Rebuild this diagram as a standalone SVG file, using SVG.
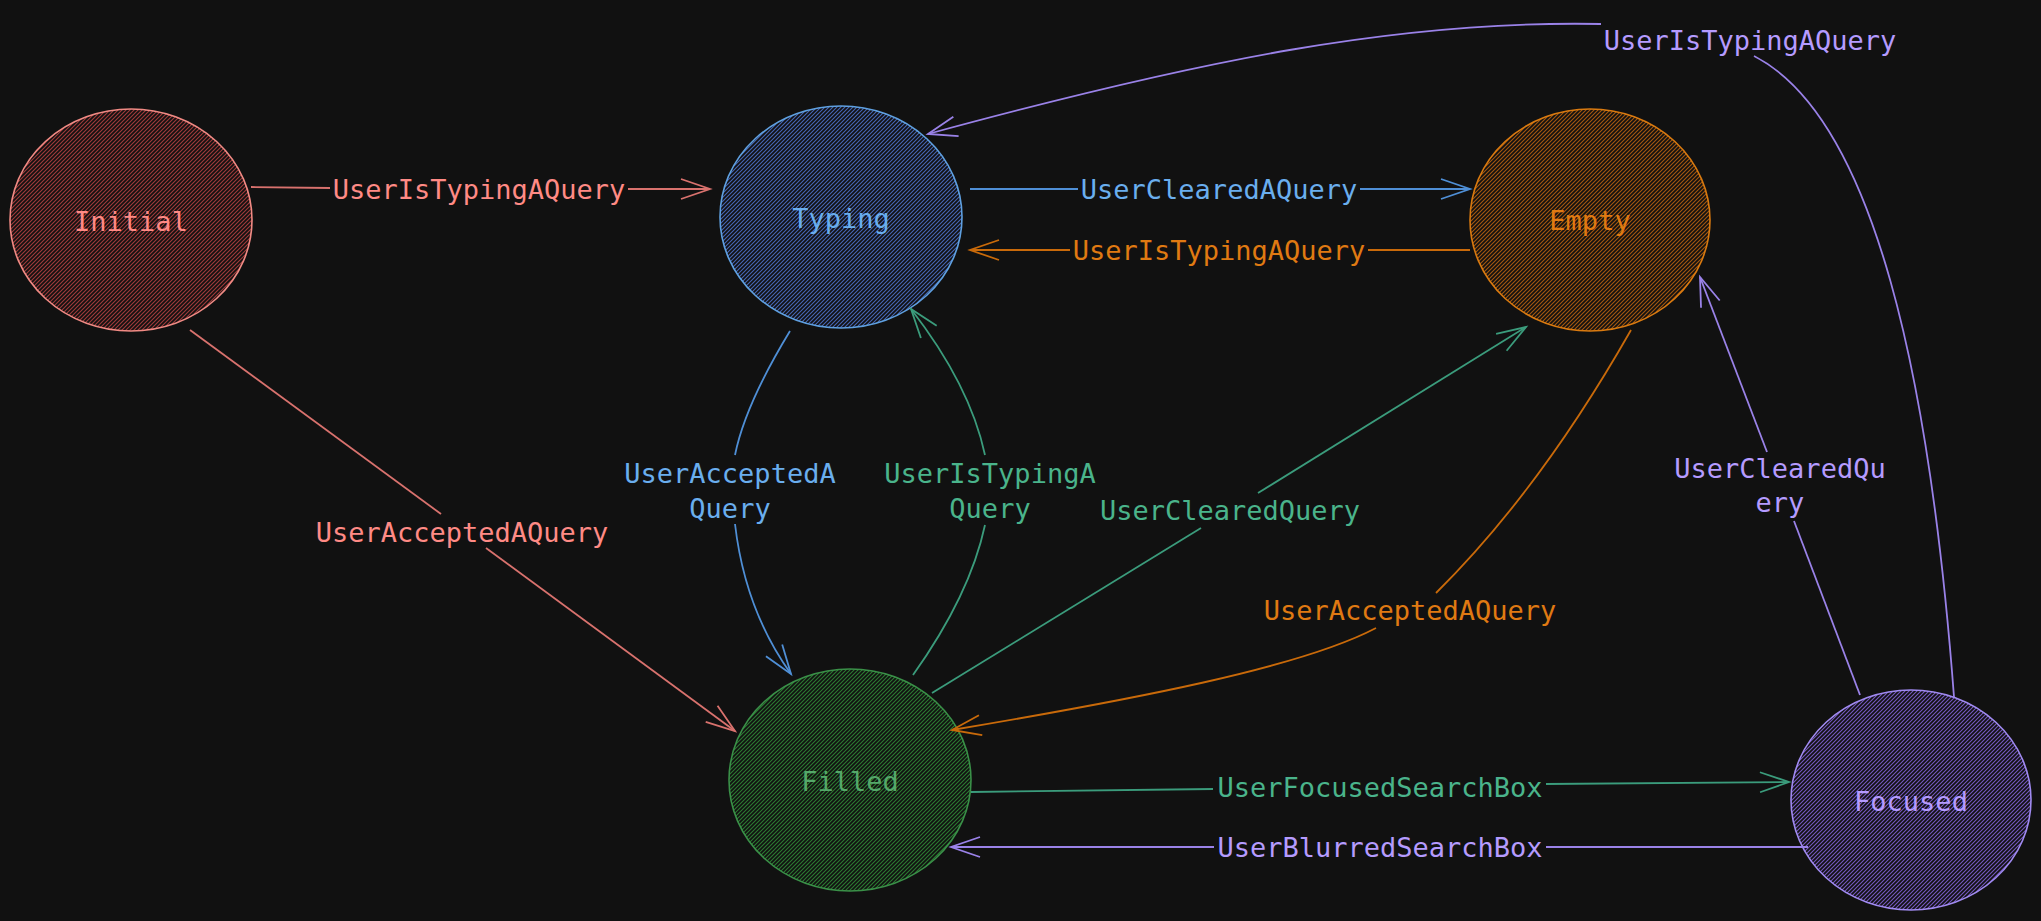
<svg xmlns="http://www.w3.org/2000/svg" width="2041" height="921" viewBox="0 0 2041 921">
<defs>
<style>
text{font-family:"DejaVu Sans Mono","Liberation Mono",monospace;font-size:27px;text-anchor:middle}
.edge{fill:none;stroke-width:1.8}
.node ellipse{stroke-width:1.6}
.red{stroke:#d9726e}.redt{fill:#ff8a85}
.blue{stroke:#4f8fd6}.bluet{fill:#6aaeee}
.orange{stroke:#c96a0a}.oranget{fill:#e07a12}
.green{stroke:#3b9c7c}.greent{fill:#4ab48b}
.purple{stroke:#9a82e8}.purplet{fill:#b59bff}
.hatch{stroke-width:1.1}
</style>
<pattern id="hRed" patternUnits="userSpaceOnUse" width="4" height="4"><rect width="4" height="4" fill="#111"/><path class="hatch" d="M-1,1 l2,-2 M0,4 l4,-4 M3,5 l2,-2" stroke="#a03a3a"/></pattern>
<pattern id="hBlue" patternUnits="userSpaceOnUse" width="4" height="4"><rect width="4" height="4" fill="#111"/><path class="hatch" d="M-1,1 l2,-2 M0,4 l4,-4 M3,5 l2,-2" stroke="#4666b6"/></pattern>
<pattern id="hOrange" patternUnits="userSpaceOnUse" width="4" height="4"><rect width="4" height="4" fill="#111"/><path class="hatch" d="M-1,1 l2,-2 M0,4 l4,-4 M3,5 l2,-2" stroke="#a5580e"/></pattern>
<pattern id="hGreen" patternUnits="userSpaceOnUse" width="4" height="4"><rect width="4" height="4" fill="#111"/><path class="hatch" d="M-1,1 l2,-2 M0,4 l4,-4 M3,5 l2,-2" stroke="#2b7a31"/></pattern>
<pattern id="hPurple" patternUnits="userSpaceOnUse" width="4" height="4"><rect width="4" height="4" fill="#111"/><path class="hatch" d="M-1,1 l2,-2 M0,4 l4,-4 M3,5 l2,-2" stroke="#7558c0"/></pattern>
<marker id="aRed" markerUnits="userSpaceOnUse" markerWidth="40" markerHeight="30" viewBox="-32 -15 40 30" refX="0" refY="0" orient="auto"><path d="M-29,-10 L0,0 L-29,10" fill="none" stroke="#d9726e" stroke-width="1.8"/></marker>
<marker id="aBlue" markerUnits="userSpaceOnUse" markerWidth="40" markerHeight="30" viewBox="-32 -15 40 30" refX="0" refY="0" orient="auto"><path d="M-29,-10 L0,0 L-29,10" fill="none" stroke="#4f8fd6" stroke-width="1.8"/></marker>
<marker id="aOrange" markerUnits="userSpaceOnUse" markerWidth="40" markerHeight="30" viewBox="-32 -15 40 30" refX="0" refY="0" orient="auto"><path d="M-29,-10 L0,0 L-29,10" fill="none" stroke="#c96a0a" stroke-width="1.8"/></marker>
<marker id="aGreen" markerUnits="userSpaceOnUse" markerWidth="40" markerHeight="30" viewBox="-32 -15 40 30" refX="0" refY="0" orient="auto"><path d="M-29,-10 L0,0 L-29,10" fill="none" stroke="#3b9c7c" stroke-width="1.8"/></marker>
<marker id="aPurple" markerUnits="userSpaceOnUse" markerWidth="40" markerHeight="30" viewBox="-32 -15 40 30" refX="0" refY="0" orient="auto"><path d="M-29,-10 L0,0 L-29,10" fill="none" stroke="#9a82e8" stroke-width="1.8"/></marker>
</defs>
<rect width="2041" height="921" fill="#111111"/>

<g id="nodes">
<g id="node-initial" class="node"><ellipse cx="131" cy="220" rx="121" ry="111" fill="url(#hRed)" stroke="#f08a84"/><text x="131" y="231" class="redt">Initial</text></g>
<g id="node-typing" class="node"><ellipse cx="841" cy="217" rx="121" ry="111" fill="url(#hBlue)" stroke="#5fa0e0"/><text x="841" y="228" class="bluet">Typing</text></g>
<g id="node-empty" class="node"><ellipse cx="1590" cy="220" rx="120" ry="111" fill="url(#hOrange)" stroke="#d97a10"/><text x="1590" y="230" class="oranget">Empty</text></g>
<g id="node-filled" class="node"><ellipse cx="850" cy="780" rx="121" ry="111" fill="url(#hGreen)" stroke="#3a9048"/><text x="850" y="791" fill="#55a86a">Filled</text></g>
<g id="node-focused" class="node"><ellipse cx="1911" cy="800" rx="120" ry="110" fill="url(#hPurple)" stroke="#a08af0"/><text x="1911" y="811" class="purplet">Focused</text></g>
</g>

<g id="connectors">
<g id="e1"><path class="edge red" d="M251,187 L330,188"/><path class="edge red" d="M628,189 L710,189" marker-end="url(#aRed)"/><text x="479" y="199" class="redt">UserIsTypingAQuery</text></g>
<g id="e2"><path class="edge red" d="M190,330 L441,514"/><path class="edge red" d="M486,548 L735,731" marker-end="url(#aRed)"/><text x="462" y="542" class="redt">UserAcceptedAQuery</text></g>
<g id="e3"><path class="edge blue" d="M970,189 L1078,189"/><path class="edge blue" d="M1360,189 L1470,189" marker-end="url(#aBlue)"/><text x="1219" y="199" class="bluet">UserClearedAQuery</text></g>
<g id="e4"><path class="edge orange" d="M1470,250 L1368,250"/><path class="edge orange" d="M1070,250 L970,250" marker-end="url(#aOrange)"/><text x="1219" y="260" class="oranget">UserIsTypingAQuery</text></g>
<g id="e5"><path class="edge blue" d="M790,331 Q745,405 735,455"/><path class="edge blue" d="M735,524 Q745,610 791,674" marker-end="url(#aBlue)"/><text x="730" y="483" class="bluet">UserAcceptedA</text><text x="730" y="518" class="bluet">Query</text></g>
<g id="e6"><path class="edge green" d="M913,675 Q970,595 985,525"/><path class="edge green" d="M985,455 Q970,385 911,309" marker-end="url(#aGreen)"/><text x="990" y="483" class="greent">UserIsTypingA</text><text x="990" y="518" class="greent">Query</text></g>
<g id="e7"><path class="edge green" d="M932,693 L1201,528"/><path class="edge green" d="M1258,493 L1526,327" marker-end="url(#aGreen)"/><text x="1230" y="520" class="greent">UserClearedQuery</text></g>
<g id="e8"><path class="edge orange" d="M1631,330 Q1540,490 1436,593"/><path class="edge orange" d="M1376,628 C1300,668 1130,700 952,730" marker-end="url(#aOrange)"/><text x="1410" y="620" class="oranget">UserAcceptedAQuery</text></g>
<g id="e9"><path class="edge purple" d="M1860,695 L1794,521"/><path class="edge purple" d="M1767,452 L1700,277" marker-end="url(#aPurple)"/><text x="1780" y="478" class="purplet">UserClearedQu</text><text x="1780" y="512" class="purplet">ery</text></g>
<g id="e10"><path class="edge purple" d="M1954,697 C1930,380 1875,118 1754,56"/><path class="edge purple" d="M1601,24 C1400,20 1200,60 928,134" marker-end="url(#aPurple)"/><text x="1750" y="50" class="purplet">UserIsTypingAQuery</text></g>
<g id="e11"><path class="edge green" d="M971,792 L1213,789"/><path class="edge green" d="M1546,784 L1789,782" marker-end="url(#aGreen)"/><text x="1380" y="797" class="greent">UserFocusedSearchBox</text></g>
<g id="e12"><path class="edge purple" d="M1808,847 L1546,847"/><path class="edge purple" d="M1214,847 L951,847" marker-end="url(#aPurple)"/><text x="1380" y="857" class="purplet">UserBlurredSearchBox</text></g>
</g>
</svg>
